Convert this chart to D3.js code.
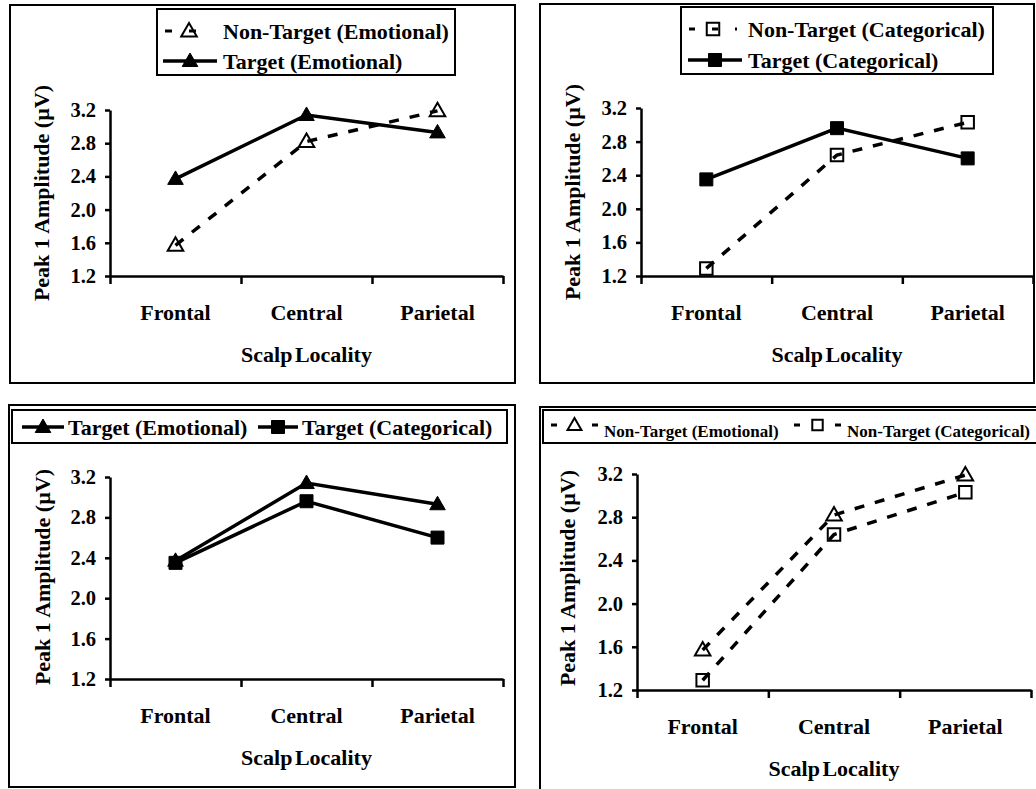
<!DOCTYPE html>
<html>
<head>
<meta charset="utf-8">
<script src="https://cdn.jsdelivr.net/npm/d3@7"></script>
<style>
  body { margin: 0; background: #fff; }
  svg { display: block; }
  text { font-family: "Liberation Serif", "Times New Roman", serif; font-weight: bold; fill: #000; }
</style>
</head>
<body>
<svg id="chart" width="1036" height="789"></svg>
<script>
// data
var categories = ["Frontal", "Central", "Parietal"];
var targetEmotional = [2.37, 3.14, 2.93];
var targetCategorical = [2.35, 2.96, 2.60];
var nonTargetEmotional = [1.57, 2.82, 3.19];
var nonTargetCategorical = [1.29, 2.64, 3.03];
var yTicks = [1.2, 1.6, 2.0, 2.4, 2.8, 3.2];

var series = {
  te:  { name: "Target (Emotional)", values: targetEmotional, dashed: false, shape: "triangle", filled: true },
  tc:  { name: "Target (Categorical)", values: targetCategorical, dashed: false, shape: "square", filled: true },
  nte: { name: "Non-Target (Emotional)", values: nonTargetEmotional, dashed: true, shape: "triangle", filled: false },
  ntc: { name: "Non-Target (Categorical)", values: nonTargetCategorical, dashed: true, shape: "square", filled: false }
};

var svg = d3.select("#chart");

function marker(g, s, x, y, scale) {
  scale = scale || 1;
  var type = s.shape == "triangle" ? d3.symbolTriangle : d3.symbolSquare;
  var size = s.shape == "triangle" ? 105 : (s.filled ? 169 : 156);
  var dy = s.shape == "triangle" ? 1 : 0;
  g.append("path")
    .attr("d", d3.symbol().type(type).size(size * scale)())
    .attr("transform", "translate(" + x + "," + (y + dy) + ")")
    .attr("fill", s.filled ? "#000" : "none")
    .attr("stroke", "#000")
    .attr("stroke-width", s.filled ? 1 : 2);
}

function drawPanel(p) {
  var g = svg.append("g");

  // outer frame
  g.append("rect").attr("x", p.box[0]).attr("y", p.box[1])
    .attr("width", p.box[2] - p.box[0]).attr("height", p.box[3] - p.box[1])
    .attr("fill", "none").attr("stroke", "#000").attr("stroke-width", 2);

  var x = d3.scaleLinear().domain([0, 3]).range([p.left, p.right]);
  var xBand = d3.scaleBand().domain(categories).range([p.left, p.right]);
  var y = d3.scaleLinear().domain([1.2, 3.2]).range([p.bottom, p.top]);

  var xAxis = g.append("g").attr("transform", "translate(0," + p.bottom + ")")
    .call(d3.axisBottom(x).tickValues([0, 1, 2, 3]).tickFormat("").tickSizeInner(8).tickSizeOuter(0));
  var yAxis = g.append("g").attr("transform", "translate(" + p.left + ",0)")
    .call(d3.axisLeft(y).tickValues(yTicks).tickFormat(d3.format(".1f")).tickSizeInner(5).tickSizeOuter(0).tickPadding(9));
  [xAxis, yAxis].forEach(function (a) {
    a.selectAll("path, line").attr("stroke", "#000").attr("stroke-width", 2.5);
  });
  yAxis.selectAll("text").style("font-size", "20.5px").style("font-family", null);

  g.selectAll(".cat").data(categories).enter().append("text")
    .attr("x", function (d) { return xBand(d) + xBand.bandwidth() / 2; })
    .attr("y", p.bottom + 44)
    .attr("text-anchor", "middle").style("font-size", "22px")
    .text(function (d) { return d; });

  g.append("text").attr("x", (p.left + p.right) / 2).attr("y", p.bottom + 86)
    .attr("text-anchor", "middle").style("font-size", "22px").style("word-spacing", "-3px")
    .text("Scalp Locality");

  g.append("text")
    .attr("transform", "translate(" + p.ylabelX + "," + ((p.top + p.bottom) / 2 + p.ylabelDy) + ") rotate(-90)")
    .attr("text-anchor", "middle").attr("dy", "0.35em").style("font-size", "22px")
    .text("Peak 1 Amplitude (\u00b5V)");

  var line = d3.line()
    .x(function (d, i) { return xBand(categories[i]) + xBand.bandwidth() / 2; })
    .y(function (d) { return y(d); });

  p.series.forEach(function (s) {
    g.append("path").datum(s.values).attr("d", line)
      .attr("fill", "none").attr("stroke", "#000").attr("stroke-width", 3.5)
      .attr("stroke-dasharray", s.dashed ? "10,11" : null);
    s.values.forEach(function (v, i) {
      marker(g, s, xBand(categories[i]) + xBand.bandwidth() / 2, y(v));
    });
  });

  // legend
  var lg = p.legend;
  g.append("rect").attr("x", lg.box[0]).attr("y", lg.box[1])
    .attr("width", lg.box[2] - lg.box[0]).attr("height", lg.box[3] - lg.box[1])
    .attr("fill", "#fff").attr("stroke", "#000").attr("stroke-width", 2);
  lg.items.forEach(function (it) {
    var s = it.s;
    g.append("line").attr("x1", it.x1).attr("x2", it.x2).attr("y1", it.y).attr("y2", it.y)
      .attr("stroke", "#000").attr("stroke-width", s.dashed ? 3 : 3.5)
      .attr("stroke-dasharray", s.dashed ? it.dash : null);
    marker(g, s, (it.x1 + it.x2) / 2, it.y, it.mscale);
    g.append("text").attr("x", it.tx).attr("y", it.ty)
      .style("font-size", lg.fontSize + "px").text(s.name);
  });
}

drawPanel({
  box: [10, 5, 515, 383], left: 110, right: 503, top: 110, bottom: 276,
  ylabelX: 41, ylabelDy: 0,
  series: [series.nte, series.te],
  legend: { box: [157, 9, 455, 75], fontSize: 22, items: [
    { s: series.nte, x1: 165, x2: 213, y: 31, dash: "7,17", tx: 223, ty: 39 },
    { s: series.te, x1: 163, x2: 217, y: 61, tx: 223, ty: 69 }
  ] }
});

drawPanel({
  box: [540, 4, 1034, 383], left: 641, right: 1033, top: 108, bottom: 276,
  ylabelX: 572, ylabelDy: 0,
  series: [series.ntc, series.tc],
  legend: { box: [681, 7, 993, 74], fontSize: 22, items: [
    { s: series.ntc, x1: 689, x2: 737, y: 29, dash: "6,17", tx: 748, ty: 37 },
    { s: series.tc, x1: 688, x2: 742, y: 60, tx: 748, ty: 68 }
  ] }
});

drawPanel({
  box: [9, 405, 515, 787], left: 110, right: 503, top: 477, bottom: 679,
  ylabelX: 42, ylabelDy: -1,
  series: [series.te, series.tc],
  legend: { box: [12, 410, 507, 443], fontSize: 22, items: [
    { s: series.te, x1: 22, x2: 64, y: 427, tx: 68, ty: 435 },
    { s: series.tc, x1: 258, x2: 298, y: 427, tx: 302, ty: 435 }
  ] }
});

drawPanel({
  box: [540, 407, 1040, 795], left: 637, right: 1031, top: 474, bottom: 690,
  ylabelX: 567, ylabelDy: -4,
  series: [series.nte, series.ntc],
  legend: { box: [543, 410, 1040, 443], fontSize: 17, items: [
    { s: series.nte, x1: 551, x2: 598, y: 425, dash: "6,35", tx: 604, ty: 437, mscale: 0.8 },
    { s: series.ntc, x1: 794, x2: 841, y: 425, dash: "6,35", tx: 847, ty: 437, mscale: 0.7 }
  ] }
});
</script>
</body>
</html>
